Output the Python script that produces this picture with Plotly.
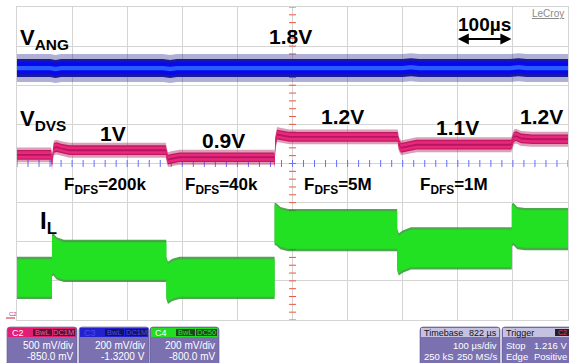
import numpy as np
import plotly.graph_objects as go

W, H = 569, 363

# ---------------- data ----------------
TIME_PER_DIV = 100          # µs / div
X_DIVS, Y_DIVS = 10, 8

# channel vertical settings (V/div, offset V) as shown in the channel boxes
C2_SCALE, C2_OFFSET = 0.5, -0.85    # V_DVS  (pink)
C3_SCALE, C3_OFFSET = 0.2, -1.32    # V_ANG  (blue)
C4_SCALE, C4_OFFSET = 0.2, -0.80    # I_L    (green)

# V_ANG trace centre (µs, V)
vang_t = [0, 60, 70, 80, 265, 278, 290, 470, 490, 520, 700, 715, 730, 895, 910, 925, 1000]
vang_v = [1.808, 1.808, 1.803, 1.808, 1.808, 1.803, 1.808, 1.808, 1.805, 1.808, 1.808, 1.812, 1.808, 1.808, 1.812, 1.808, 1.808]

# V_DVS trace centre (µs, V)
vdvs_t = [0, 62, 63.5, 65, 67, 72, 80, 95, 270, 272, 274, 280, 295, 466, 467.5, 469, 472, 480, 495,
          691, 693, 697, 705, 725, 897, 899, 902, 906, 915, 935, 1000]
vdvs_v = [0.96, 0.96, 0.86, 0.98, 1.05, 1.06, 1.04, 1.02, 1.02, 0.95, 0.90, 0.91, 0.93, 0.93, 0.88, 1.12, 1.22, 1.21, 1.19,
          1.19, 1.10, 1.05, 1.06, 1.09, 1.09, 1.13, 1.19, 1.20, 1.17, 1.16, 1.16]

# I_L trace centre (µs, V at probe output)
il_t = [0, 63.5, 63.5, 66, 72, 85, 271, 271, 274, 282, 295, 467.5, 467.5, 470, 478, 492,
        690, 690, 693, 700, 715, 898, 898, 901, 908, 922, 1000]
il_v = [0.215, 0.215, 0.33, 0.335, 0.315, 0.302, 0.302, 0.215, 0.19, 0.205, 0.215, 0.215, 0.49, 0.49, 0.47, 0.46,
        0.46, 0.36, 0.335, 0.35, 0.366, 0.366, 0.485, 0.49, 0.47, 0.465, 0.465]

# band half-widths (V): noise spikes, dense edge, core, centre stripe
vang_hw = [0.072, 0.046, 0.032, 0.011]
vdvs_hw = [0.095, 0.062, 0.045, 0.012]
il_hw = [0.108, 0.096]

vdvs_labels = ["1V", "0.9V", "1.2V", "1.1V", "1.2V"]
fdfs_labels = ["200k", "40k", "5M", "1M"]

# ---------------- helpers ----------------
FONT = "Liberation Sans"


def band(t, v, hw, scale, offset, color, opacity=1.0):
    t = list(t)
    up = [(vi + hw + offset) / scale for vi in v]
    lo = [(vi - hw + offset) / scale for vi in v]
    return go.Scatter(x=t + t[::-1], y=up + lo[::-1], mode="lines", fill="toself",
                      fillcolor=color, line=dict(width=0, color=color), opacity=opacity,
                      hoverinfo="skip", showlegend=False)


def px(x):
    return x / W


def py(y):
    return 1 - y / H


fig = go.Figure()

# crosshair minor ticks
xt = np.arange(0, X_DIVS * TIME_PER_DIV + 1, TIME_PER_DIV / 5)
yt = np.arange(-Y_DIVS / 2, Y_DIVS / 2 + 0.001, 0.2)
fig.add_trace(go.Scatter(x=xt, y=np.zeros_like(xt), mode="markers",
                         marker=dict(symbol="line-ns-open", size=5, line=dict(color="#b4b4b4", width=1)),
                         hoverinfo="skip", showlegend=False))
fig.add_trace(go.Scatter(x=np.full_like(yt, X_DIVS * TIME_PER_DIV / 2), y=yt, mode="markers",
                         marker=dict(symbol="line-ew-open", size=5, line=dict(color="#b4b4b4", width=1)),
                         hoverinfo="skip", showlegend=False))

# V_ANG (blue)
fig.add_trace(band(vang_t, vang_v, vang_hw[0], C3_SCALE, C3_OFFSET, "#1c1c8a", 0.35))
fig.add_trace(band(vang_t, vang_v, vang_hw[1], C3_SCALE, C3_OFFSET, "#1a1a9c"))
fig.add_trace(band(vang_t, vang_v, vang_hw[2], C3_SCALE, C3_OFFSET, "#0808ee"))
fig.add_trace(band(vang_t, vang_v, vang_hw[3], C3_SCALE, C3_OFFSET, "#2a5cff"))

# V_DVS (pink)
fig.add_trace(band(vdvs_t, vdvs_v, vdvs_hw[0], C2_SCALE, C2_OFFSET, "#a8104e", 0.4))
fig.add_trace(band(vdvs_t, vdvs_v, vdvs_hw[1], C2_SCALE, C2_OFFSET, "#c2185f"))
fig.add_trace(band(vdvs_t, vdvs_v, vdvs_hw[2], C2_SCALE, C2_OFFSET, "#e8287c"))
fig.add_trace(band(vdvs_t, vdvs_v, vdvs_hw[3], C2_SCALE, C2_OFFSET, "#b81460"))

# I_L (green)
fig.add_trace(band(il_t, il_v, il_hw[0], C4_SCALE, C4_OFFSET, "#2a9a2a", 0.85))
fig.add_trace(band(il_t, il_v, il_hw[1], C4_SCALE, C4_OFFSET, "#22e022"))

annotations = []


def ann(text, x, y, size, xanchor="center", yanchor="middle", color="black", bold=True, family=FONT, **kw):
    t = f"<b>{text}</b>" if bold else text
    annotations.append(dict(text=t, x=px(x), y=py(y), xref="paper", yref="paper",
                            xanchor=xanchor, yanchor=yanchor, showarrow=False,
                            font=dict(family=family, size=size, color=color), **kw))


# signal labels
ann("V<sub>ANG</sub>", 18, 39, 22, xanchor="left")
ann("V<sub>DVS</sub>", 18, 120, 22, xanchor="left")
ann("I<sub>L</sub>", 38, 222, 24, xanchor="left")
ann("1.8V", 290, 36, 21)
ann("100µs", 484, 24, 19)

lbl_pos = [(113, 133), (223, 140), (342, 116), (457, 127), (541, 116)]
for s, (x, y) in zip(vdvs_labels, lbl_pos):
    ann(s, x, y, 21)

f_pos = [(62, 186), (183, 186), (302, 186), (418, 186)]
for s, (x, y) in zip(fdfs_labels, f_pos):
    ann("F<sub>DFS</sub>=" + s, x, y, 17, xanchor="left")

# LeCroy logo text
annotations.append(dict(text="LeCroy", x=px(566), y=py(14), xref="paper", yref="paper",
                        xanchor="right", yanchor="middle", showarrow=False,
                        font=dict(family=FONT, size=10, color="#8a8a8a", lineposition="under")))

# 100 µs double arrow (one division)
arrow_y = (py(39) - py(320)) / (py(7) - py(320)) * Y_DIVS - Y_DIVS / 2
annotations.append(dict(x=8 * TIME_PER_DIV, y=arrow_y, ax=9 * TIME_PER_DIV, ay=arrow_y,
                        xref="x", yref="y", axref="x", ayref="y", text="", showarrow=True,
                        arrowhead=2, arrowside="end+start", arrowsize=1.1, arrowwidth=2, arrowcolor="black"))

# ---------------- bottom info boxes ----------------
shapes = []
BODY = "#7b71b1"


def rrect(x0, y0, x1, y1, color, r=3, line="rgba(0,0,0,0)"):
    X0, X1 = px(x0), px(x1)
    Y0, Y1 = py(y0), py(y1)
    rx, ry = r / W, r / H
    path = (f"M{X0 + rx},{Y0} L{X1 - rx},{Y0} Q{X1},{Y0} {X1},{Y0 - ry} "
            f"L{X1},{Y1 + ry} Q{X1},{Y1} {X1 - rx},{Y1} L{X0 + rx},{Y1} Q{X0},{Y1} {X0},{Y1 + ry} "
            f"L{X0},{Y0 - ry} Q{X0},{Y0} {X0 + rx},{Y0} Z")
    shapes.append(dict(type="path", path=path, xref="paper", yref="paper",
                       fillcolor=color, line=dict(color=line, width=0.6), layer="above"))


def rect(x0, y0, x1, y1, color):
    shapes.append(dict(type="rect", x0=px(x0), x1=px(x1), y0=py(y1), y1=py(y0), xref="paper", yref="paper",
                       fillcolor=color, line=dict(width=0), layer="above"))


def small(text, x, y, size=10, color="white", xanchor="right"):
    annotations.append(dict(text=text, x=px(x), y=py(y), xref="paper", yref="paper",
                            xanchor=xanchor, yanchor="middle", showarrow=False,
                            font=dict(family=FONT, size=size, color=color)))


channels = [
    # x0, x1, header colour, dark colour, label text colour, name, coupling, scale, offset
    (7, 77, "#e31c74", "#5a1030", "#f0609a", "C2", "DC1M", "500 mV/div", "-850.0 mV"),
    (79, 149, "#2222cc", "#14145c", "#4a4aee", "C3", "DC1M", "200 mV/div", "-1.3200 V"),
    (150, 219, "#22dd22", "#1c4a1c", "#30e030", "C4", "DC50", "200 mV/div", "-800.0 mV"),
]
for x0, x1, hc, dc, tc, name, cpl, sc, off in channels:
    rrect(x0, 327, x1, 366, BODY, line="#5c5490")
    rect(x0 + 1, 328, x1 - 1, 337, hc)
    rect(x0 + 26, 329, x0 + 45, 336, dc)
    rect(x0 + 46, 329, x1 - 2, 336, dc)
    small(name, x0 + 3, 332.5, 9, "#ffffff" if name != "C3" else tc, "left")
    small("BwL", x0 + 35.5, 332.5, 7.5, tc, "center")
    small(cpl, (x0 + 46 + x1 - 2) / 2, 332.5, 7.5, tc, "center")
    small(sc, x1 - 2, 345.5)
    small(off, x1 - 2, 356.5)

# timebase box
rrect(420, 327, 500, 366, BODY, line="#5c5490")
rect(421, 328, 499, 337, "#c5c1e1")
small("Timebase", 422, 332.5, 9, "#111111", "left")
small("822 µs", 499, 332.5, 9, "#111111", "right")
small("100 µs/div", 499, 345.5, 9.5)
small("250 kS", 422, 356.5, 9.5, "white", "left")
small("250 MS/s", 499, 356.5, 9.5)

# trigger box
rrect(502, 327, 575, 366, BODY, line="#5c5490")
rect(503, 328, 574, 337, "#c5c1e1")
small("Trigger", 504, 332.5, 9, "#111111", "left")
rect(555, 329, 569, 336, "#222222")
small("C2", 562, 332.5, 7, "#e0407a", "center")
small("Stop", 504, 345.5, 9.5, "white", "left")
small("1.216 V", 569, 345.5, 9.5)
small("Edge", 504, 356.5, 9.5, "white", "left")
small("Positive", 569, 356.5, 9.5)

# channel ground marker at lower left
small("C2", 7, 313.5, 6, "#c03080", "left")
shapes.append(dict(type="line", x0=px(6), x1=px(15), y0=py(318), y1=py(318), xref="paper", yref="paper",
                   line=dict(color="#d02040", width=1)))

# ---------------- layout ----------------
grid = "#d4d4d4"
fig.update_layout(
    width=W, height=H, margin=dict(l=0, r=0, t=0, b=0),
    paper_bgcolor="white", plot_bgcolor="white",
    showlegend=False,
    xaxis=dict(domain=[17 / W, 568 / W], range=[0, X_DIVS * TIME_PER_DIV], dtick=TIME_PER_DIV, tick0=0,
               showgrid=True, gridcolor=grid, gridwidth=1, zeroline=False, showticklabels=False,
               showline=True, mirror=True, linecolor=grid, ticks=""),
    yaxis=dict(domain=[1 - 320 / H, 1 - 7 / H], range=[-Y_DIVS / 2, Y_DIVS / 2], dtick=1, tick0=0,
               showgrid=True, gridcolor=grid, gridwidth=1, zeroline=False, showticklabels=False,
               showline=True, mirror=True, linecolor=grid, ticks=""),
    annotations=annotations,
    shapes=shapes,
)

fig.write_html("out.html")
